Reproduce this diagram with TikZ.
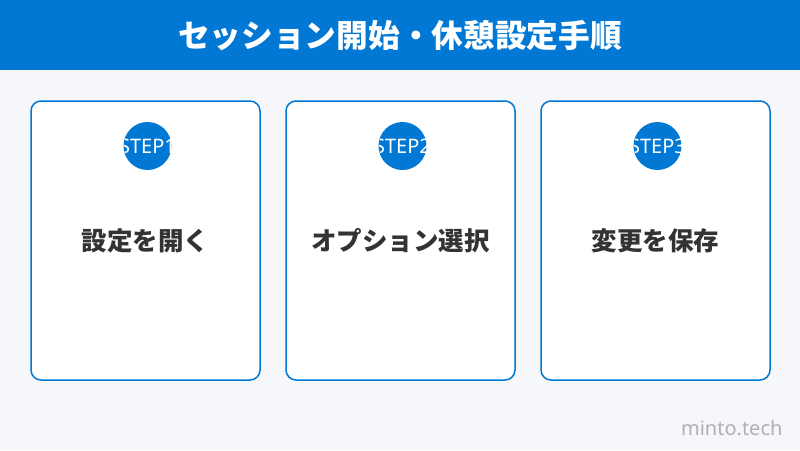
\documentclass[tikz,border=0pt]{standalone}
\usepackage{fontspec}
\newfontfamily\cjk{Noto Sans CJK JP}
\newfontfamily\latin{Noto Sans}
\definecolor{mainblue}{HTML}{0078D4}
\definecolor{bg}{HTML}{F5F7FA}
\definecolor{darktext}{HTML}{333333}
\definecolor{wm}{HTML}{B0B0B0}
\tikzset{
  card/.style={draw=mainblue, line width=1.5pt, fill=white, rounded corners=10pt},
  stepcircle/.style={circle, fill=mainblue, minimum size=48pt, inner sep=0pt},
  steptext/.style={text=white, font=\latin\fontsize{20}{20}\selectfont},
  cardtext/.style={text=darktext, font=\cjk\bfseries\fontsize{25.5}{25.5}\selectfont},
}
\begin{document}
\begin{tikzpicture}[x=1pt,y=-1pt]
\useasboundingbox (0,0) rectangle (800,450);
\fill[bg] (0,0) rectangle (800,450);
\fill[mainblue] (0,0) rectangle (800,70);
\node[text=white, font=\cjk\bfseries\fontsize{31.7}{31.7}\selectfont] (title) at (400,36) {セッション開始・休憩設定手順};
\foreach \i/\x/\lbl in {1/145.5/設定を開く, 2/400.5/オプション選択, 3/655.5/変更を保存} {
  \draw[card] (\x-114.5,101) rectangle (\x+114.5,380);
  \node[stepcircle] (c\i) at (\x+2,146) {};
  \begin{scope}
    \clip (\x+2,146) circle (24pt);
    \node[steptext] (s\i) at (\x+2,146) {STEP\i};
  \end{scope}
  \node[cardtext] (t\i) at (\x,241) {\lbl};
}
\node[text=wm, font=\latin\fontsize{20}{20}\selectfont, anchor=east] (wm) at (786,428) {minto.tech};
\end{tikzpicture}
\end{document}
